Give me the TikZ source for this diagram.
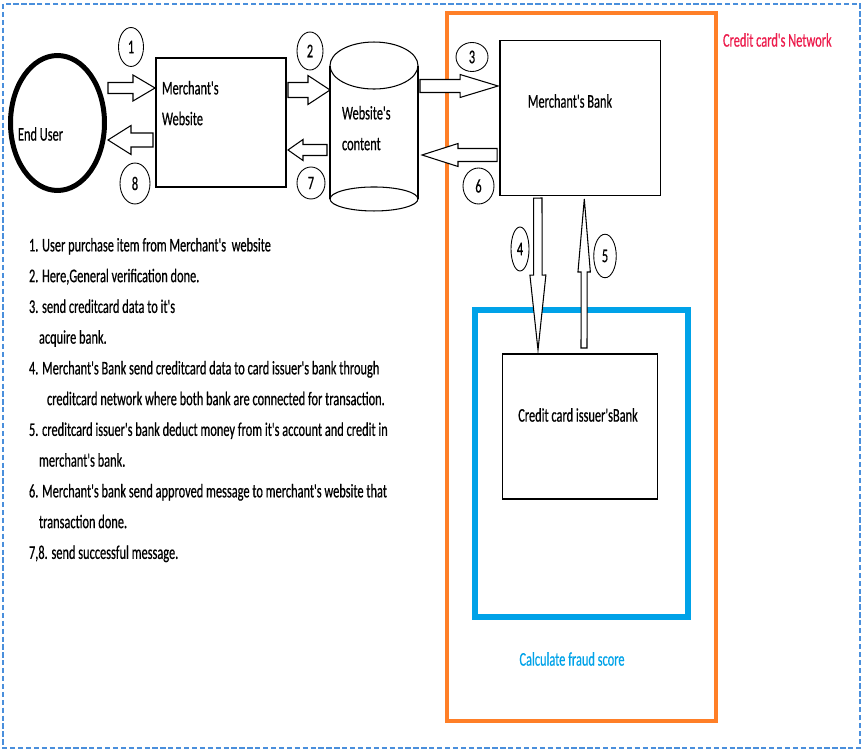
\documentclass[tikz,border=0pt]{standalone}
\usepackage{fontspec}
\newfontfamily\cfont{Carlito}[FakeStretch=0.64, FakeBold=0.5]
\usetikzlibrary{shapes.geometric, calc}
\definecolor{netorange}{HTML}{FF7F27}
\definecolor{fraudblue}{HTML}{00A2E8}
\definecolor{netred}{HTML}{EC1C4C}
\definecolor{frameblue}{HTML}{4A8FDC}

\newcommand{\blockarrow}[5]{%
  \draw[arrowline] let \p1=(#1), \p2=(#2), \n1={veclen(\x2-\x1,\y2-\y1)},
      \p3=({(\x2-\x1)/\n1*0.569pt},{(\y2-\y1)/\n1*0.569pt}) in
    ({\x1-\y3*#3},{\y1+\x3*#3}) -- ({\x2-\x3*#5-\y3*#3},{\y2-\y3*#5+\x3*#3})
    -- ({\x2-\x3*#5-\y3*#4},{\y2-\y3*#5+\x3*#4}) -- (\p2)
    -- ({\x2-\x3*#5+\y3*#4},{\y2-\y3*#5-\x3*#4}) -- ({\x2-\x3*#5+\y3*#3},{\y2-\y3*#5-\x3*#3})
    -- ({\x1+\y3*#3},{\y1-\x3*#3}) -- cycle;
}

\begin{document}
\begin{tikzpicture}[x=0.02cm, y=-0.02cm, font=\cfont\fontsize{11}{17.5}\selectfont,
    box/.style={draw, line width=0.8pt, inner sep=0pt, outer sep=0pt},
    numcirc/.style={draw, ellipse, line width=0.5pt, inner sep=0pt, outer sep=0pt},
    arrowline/.style={draw, fill=white, line width=0.6pt, line join=miter},
    txt/.style={inner sep=0pt, outer sep=0pt}]
  \useasboundingbox (0,0) rectangle (865,756);
  \draw[frameblue, line width=0.6pt, dash pattern=on 3pt off 1.5pt] (3,4) rectangle (860,748);

  \node[draw=netorange, line width=0.08cm, minimum width=5.38cm, minimum height=14.15cm, outer sep=0pt] (network) at (581.5,367) {};
  \node[draw=fraudblue, line width=0.12cm, minimum width=4.26cm, minimum height=6.14cm, outer sep=0pt] (fraud) at (581.5,463.5) {};
  \node[txt, text=netred, anchor=west] (nettext) at (723,40) {Credit card's Network};
  \node[txt, text=fraudblue] (fraudtext) at (572,659) {Calculate fraud score};

  \node[ellipse, draw, line width=0.1cm, minimum width=1.88cm, minimum height=2.7cm, inner sep=0pt, outer sep=0pt] (user) at (57.5,123) {};
  \node[txt] (usertext) at (40.5,134) {End User};

  \node[box, minimum width=2.6cm, minimum height=2.58cm] (web) at (221,122.5) {};
  \node[txt, anchor=north west, align=left] (webtext) at (162,81) {Merchant's\\Website};

  \node[inner sep=0pt, outer sep=0pt, minimum width=1.76cm, minimum height=3.38cm] (db) at (374,126.5) {};
  \draw[line width=0.6pt] ($(db.north)+(0,23.5)$) ellipse [x radius=0.88cm, y radius=0.47cm];
  \draw[line width=0.6pt] ($(db.north west)+(0,23.5)$) -- ($(db.south west)+(0,-12)$)
    ($(db.north east)+(0,23.5)$) -- ($(db.south east)+(0,-12)$);
  \draw[line width=0.6pt] ($(db.south)+(0,-12)$) ellipse [x radius=0.88cm, y radius=0.24cm];
  \node[txt, anchor=north west, align=left] (dbtext) at (342,106) {Website's\\content};

  \node[box, minimum width=3.21cm, minimum height=3.11cm] (bank) at (580.3,118) {};
  \node[txt] (banktext) at (570,101) {Merchant's Bank};

  \node[box, minimum width=3.11cm, minimum height=2.9cm] (issuer) at (580,426.5) {};
  \node[txt] (issuertext) at (578,415) {Credit card issuer'sBank};

  \blockarrow{$(user.east)+(3.5,-35)$}{$(web.west)+(-1,-34.5)$}{5.5}{13}{22}
  \blockarrow{$(web.west)+(-3,17.5)$}{$(user.east)+(3.5,17)$}{7}{14.5}{23}
  \blockarrow{$(web.east)+(2,-32.5)$}{$(db.west)+(0,-36.5)$}{7.5}{14.5}{22}
  \blockarrow{$(db.west)+(-3,23.5)$}{$(web.east)+(2,27.5)$}{5.5}{10.5}{15}
  \blockarrow{$(db.east)+(2,-40.5)$}{$(bank.west)+(-2,-32)$}{6.5}{11.5}{38}
  \blockarrow{$(bank.west)+(-3,37)$}{$(db.east)+(4,28.5)$}{6.5}{11.5}{36}
  \blockarrow{$(bank.south)+(-42.5,2.3)$}{$(issuer.north)+(-42,-4)$}{4.2}{8}{75}
  \blockarrow{$(issuer.north)+(4,-6)$}{$(bank.south)+(4,3.3)$}{3}{6.2}{73}

  \node[numcirc, minimum width=0.5cm, minimum height=0.78cm] (n1) at (131,47) {1};
  \node[numcirc, minimum width=0.52cm, minimum height=0.76cm] (n2) at (310,51) {2};
  \node[numcirc, minimum width=0.64cm, minimum height=0.58cm] (n3) at (472,57) {3};
  \node[numcirc, minimum width=0.36cm, minimum height=0.88cm] (n4) at (520,249) {4};
  \node[numcirc, minimum width=0.45cm, minimum height=0.87cm] (n5) at (605,256) {5};
  \node[numcirc, minimum width=0.62cm, minimum height=0.72cm] (n6) at (478.5,186) {6};
  \node[numcirc, minimum width=0.56cm, minimum height=0.64cm] (n7) at (311,183) {7};
  \node[numcirc, minimum width=0.6cm, minimum height=0.82cm] (n8) at (135,183.5) {8};

  \node[txt, anchor=north west, align=left] (steps) at (29,238)
    {1. User purchase item from Merchant's~ website\\
     2. Here,General verification done.\\
     3. send creditcard data to it's\\
     \hspace*{0.2cm}acquire bank.\\
     4. Merchant's Bank send creditcard data to card issuer's bank through\\
     \hspace*{0.36cm}creditcard network where both bank are connected for transaction.\\
     5. creditcard issuer's bank deduct money from it's account and credit in\\
     \hspace*{0.2cm}merchant's bank.\\
     6. Merchant's bank send approved message to merchant's website that\\
     \hspace*{0.2cm}transaction done.\\
     7,8. send successful message.};
\end{tikzpicture}
\end{document}
